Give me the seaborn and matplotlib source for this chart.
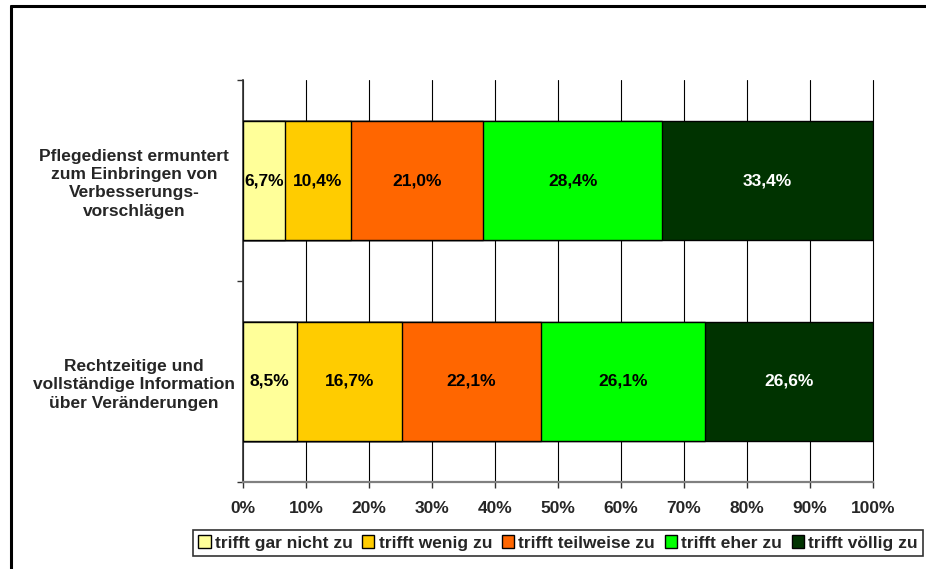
import numpy as np
import pandas as pd
import matplotlib
matplotlib.use("Agg")
import matplotlib.pyplot as plt
import seaborn as sns
from matplotlib.patches import Patch
from matplotlib.lines import Line2D
from matplotlib.ticker import FixedLocator

# ---------------- data ----------------
categories = [
    "Pflegedienst ermuntert\nzum Einbringen von\nVerbesserungs-\nvorschlägen",
    "Rechtzeitige und\nvollständige Information\nüber Veränderungen",
]
series_names = ["trifft gar nicht zu", "trifft wenig zu", "trifft teilweise zu",
                "trifft eher zu", "trifft völlig zu"]
gar_nicht = [6.7, 8.5]
wenig = [10.4, 16.7]
teilweise = [21.0, 22.1]
eher = [28.4, 26.1]
voellig = [33.4, 26.6]
x_ticks = [0, 10, 20, 30, 40, 50, 60, 70, 80, 90, 100]
x_tick_labels = [f"{t}%" for t in x_ticks]

colors = ["#FFFF99", "#FFCC00", "#FF6600", "#00FF00", "#003300"]
label_colors = ["black", "black", "black", "black", "white"]

values = np.array([gar_nicht, wenig, teilweise, eher, voellig])  # (series, category)
totals = values.sum(axis=0)
shares = values / totals * 100.0  # 100% stacked
cum = np.cumsum(shares, axis=0)
starts = cum - shares

FS = 12.5

# ---------------- style ----------------
sns.set_style("white")
plt.rcParams["font.family"] = ["Liberation Sans", "DejaVu Sans"]
plt.rcParams["font.weight"] = "bold"

fig = plt.figure(figsize=(9.26, 5.69), dpi=100)
ax = fig.add_axes([243 / 926, 1 - 482 / 569, 630 / 926, 402 / 569])

# stacked bars: draw cumulative totals from the largest down
for i in reversed(range(len(series_names))):
    df = pd.DataFrame({"cat": categories, "cum": cum[i]})
    sns.barplot(data=df, x="cum", y="cat", order=categories, orient="h",
                color=colors[i], saturation=1, width=0.59,
                edgecolor="black", linewidth=1.0, ax=ax, zorder=3)

# data labels
for i in range(len(series_names)):
    for j in range(len(categories)):
        center = starts[i, j] + shares[i, j] / 2
        txt = f"{values[i, j]:.1f}".replace(".", ",") + "%"
        ax.text(center, j, txt, ha="center", va="center", fontsize=FS,
                fontweight="bold", color=label_colors[i], zorder=5)

ax.set_xlim(0, 100)
ax.set_ylim(1.5, -0.5)
ax.set_xlabel("")
ax.set_ylabel("")

ax.xaxis.set_major_locator(FixedLocator(x_ticks))
ax.set_xticklabels(x_tick_labels, fontsize=FS, fontweight="bold")
ax.xaxis.grid(True, color="black", linewidth=0.8, zorder=0)
ax.yaxis.grid(False)
ax.set_axisbelow(True)
for gl in ax.get_xgridlines():
    gl.set_clip_on(False)

for s in ["top", "right"]:
    ax.spines[s].set_visible(False)
ax.spines["left"].set_color("#333333")
ax.spines["left"].set_linewidth(1.2)
ax.spines["bottom"].set_color("#808080")
ax.spines["bottom"].set_linewidth(1.6)

ax.tick_params(axis="x", which="major", direction="out", length=4, width=1,
               color="#333333", pad=10, bottom=True)
ax.tick_params(axis="y", which="major", length=0, pad=78.5, labelsize=FS)
ax.yaxis.set_minor_locator(FixedLocator([-0.5, 0.5, 1.5]))
ax.tick_params(axis="y", which="minor", direction="out", length=4.5, width=1,
               color="#333333", left=True)
for lab in ax.get_yticklabels():
    lab.set_ha("center")
    lab.set_multialignment("center")
    lab.set_fontweight("bold")
    lab.set_linespacing(1.28)

# legend
handles = [Patch(facecolor=c, edgecolor="black", linewidth=1.0) for c in colors]
leg = fig.legend(handles, series_names, loc="center",
                 bbox_to_anchor=(558 / 926, 1 - 543 / 569), ncol=5,
                 frameon=True, fancybox=False, edgecolor="black",
                 handlelength=0.7, handleheight=0.7, handletextpad=0.25,
                 columnspacing=0.55, borderpad=0.3, borderaxespad=0,
                 prop={"weight": "bold", "size": FS})
leg.get_frame().set_linewidth(1.2)

# outer frame (top and left lines)
fig.add_artist(Line2D([10.5 / 926, 1], [1 - 6 / 569, 1 - 6 / 569],
                      transform=fig.transFigure, color="black", linewidth=2.2))
fig.add_artist(Line2D([10.5 / 926, 10.5 / 926], [0, 1 - 6 / 569],
                      transform=fig.transFigure, color="black", linewidth=2.2))

fig.savefig("out.png", dpi=100)
